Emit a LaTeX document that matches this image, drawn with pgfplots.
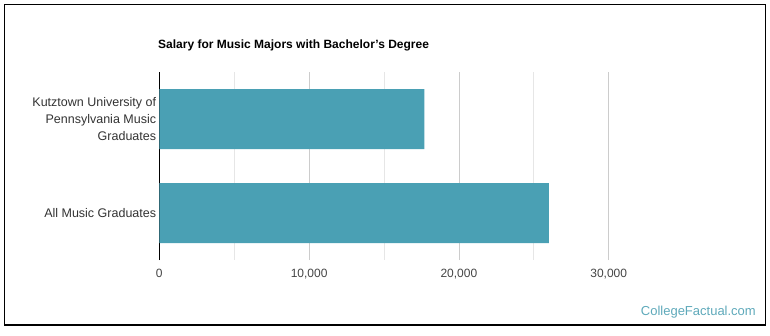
\documentclass[border=0pt]{standalone}
\usepackage{pgfplots}
\pgfplotsset{compat=1.18}
\usepackage{fontspec}
\setmainfont{Liberation Sans}
\definecolor{barblue}{HTML}{4AA0B4}
\definecolor{labelgray}{HTML}{333333}
\definecolor{tickgray}{HTML}{444444}
\definecolor{gridmajor}{HTML}{CCCCCC}
\definecolor{gridminor}{HTML}{E6E6E6}
\definecolor{brand}{HTML}{5EA9BA}
\begin{document}
\begin{tikzpicture}[x=1pt,y=1pt]
  % page area and outer frame
  \useasboundingbox (0,0) rectangle (770,335);
  \draw[black, line width=1.2pt] (4.5,10) rectangle (765.5,330.5);
  % chart title
  \node[anchor=west, inner sep=0pt, text=black]
    at (158,290) {\fontsize{12}{14}\selectfont\bfseries Salary for Music Majors with Bachelor's Degree};
  % watermark
  \node[anchor=east, inner sep=0pt, text=brand]
    at (756,23) {\fontsize{13}{15}\selectfont CollegeFactual.com};
  \begin{axis}[
    at={(159.3pt,75pt)}, anchor=south west,
    scale only axis, width=449.4pt, height=188pt,
    xmin=0, xmax=30000, ymin=-0.5, ymax=1.5,
    axis y line*=left, axis x line*=bottom,
    x axis line style={draw=none},
    y axis line style={black, line width=1pt, -},
    scaled x ticks=false,
    xtick={0,10000,20000,30000},
    xticklabels={0,{10,000},{20,000},{30,000}},
    minor xtick={5000,15000,25000},
    xmajorgrids, xminorgrids,
    major grid style={gridmajor, line width=0.8pt},
    minor grid style={gridminor, line width=0.8pt},
    major tick length=0pt, minor tick length=0pt,
    ytick={0,1},
    yticklabels={All Music Graduates,{Kutztown University of\\Pennsylvania Music\\Graduates}},
    yticklabel style={align=right, text=labelgray, font=\fontsize{12.5}{17}\selectfont, inner sep=0pt, xshift=-3pt},
    xticklabel style={text=tickgray, font=\fontsize{12}{14}\selectfont, inner sep=0pt, yshift=-9pt},
    clip=false,
  ]
    \addplot[xbar, bar width=60pt, fill=barblue, draw=none]
      coordinates {(26000,0) (17700,1)};
  \end{axis}
\end{tikzpicture}
\end{document}
